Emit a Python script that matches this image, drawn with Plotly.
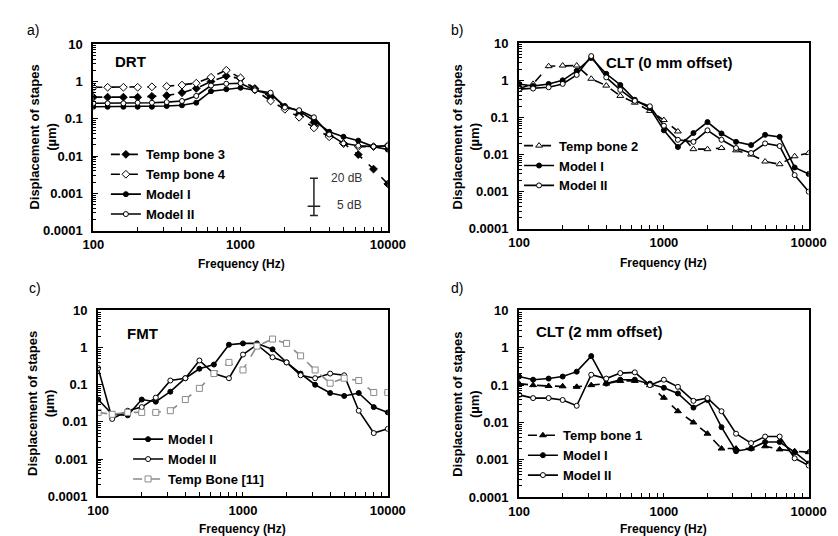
import plotly.graph_objects as go

freq = [100, 125, 160, 200, 250, 315, 400, 500, 630, 800, 1000, 1250, 1600,
        2000, 2500, 3150, 4000, 5000, 6300, 8000, 10000]

# Panel a) DRT
a_tb3 = [0.38, 0.38, 0.38, 0.38, 0.40, 0.42, 0.50, 0.65, 1.0, 1.4, 1.2, 0.65, 0.38,
         0.20, 0.13, 0.08, 0.035, 0.022, 0.011, 0.0045, 0.0018]
a_tb4 = [0.70, 0.70, 0.70, 0.70, 0.72, 0.74, 0.80, 0.90, 1.3, 2.0, 1.25, 0.60, 0.30,
         0.18, 0.11, 0.057, 0.033, 0.022, 0.018, 0.018, 0.019]
a_m1 = [0.21, 0.21, 0.21, 0.21, 0.21, 0.22, 0.23, 0.27, 0.55, 0.62, 0.68, 0.58, 0.45,
        0.22, 0.16, 0.09, 0.045, 0.033, 0.026, 0.018, 0.015]
a_m2 = [0.26, 0.26, 0.26, 0.27, 0.27, 0.28, 0.30, 0.41, 0.78, 0.87, 0.90, 0.58, 0.50,
        0.20, 0.17, 0.11, 0.038, 0.022, 0.019, 0.018, 0.019]

# Panel b) CLT (0 mm offset)
b_tb2 = [0.60, 0.80, 2.4, 2.5, 2.5, 1.1, 0.72, 0.38, 0.25, 0.15, 0.085, 0.042, 0.014,
         0.014, 0.015, 0.013, 0.010, 0.0065, 0.0055, 0.009, 0.011]
b_m1 = [0.80, 0.70, 0.80, 1.0, 1.8, 4.0, 1.5, 0.75, 0.30, 0.18, 0.045, 0.016, 0.038,
        0.075, 0.037, 0.022, 0.018, 0.034, 0.030, 0.0045, 0.003]
b_m2 = [0.58, 0.60, 0.65, 0.80, 1.4, 4.5, 1.2, 0.55, 0.28, 0.20, 0.06, 0.025, 0.022,
        0.045, 0.025, 0.015, 0.011, 0.020, 0.017, 0.0028, 0.001]

# Panel c) FMT
c_m1 = [0.04, 0.016, 0.015, 0.04, 0.035, 0.065, 0.15, 0.27, 0.35, 1.2, 1.3, 1.3, 0.9,
        0.40, 0.20, 0.10, 0.06, 0.05, 0.06, 0.025, 0.018]
c_m2 = [0.28, 0.012, 0.02, 0.025, 0.045, 0.13, 0.15, 0.45, 0.20, 0.15, 0.65, 1.2, 0.55,
        0.40, 0.18, 0.15, 0.20, 0.18, 0.02, 0.005, 0.0065]
c_tb = [0.018, 0.016, 0.018, 0.018, 0.018, 0.02, 0.04, 0.08, 0.20, 0.40, 0.25, 1.1, 1.7,
        1.3, 0.60, 0.25, 0.11, 0.15, 0.13, 0.062, 0.062]

# Panel d) CLT (2 mm offset)
d_tb1 = [0.11, 0.10, 0.095, 0.093, 0.09, 0.10, 0.11, 0.13, 0.13, 0.10, 0.046, 0.02, 0.01,
         0.005, 0.002, 0.002, 0.002, 0.0023, 0.0019, 0.0017, 0.0016]
d_m1 = [0.17, 0.14, 0.15, 0.17, 0.23, 0.60, 0.11, 0.14, 0.14, 0.11, 0.085, 0.06, 0.025,
        0.04, 0.0075, 0.0017, 0.002, 0.003, 0.003, 0.0016, 0.0008]
d_m2 = [0.055, 0.045, 0.045, 0.04, 0.028, 0.19, 0.15, 0.21, 0.22, 0.10, 0.14, 0.09, 0.038,
        0.045, 0.02, 0.005, 0.0028, 0.0042, 0.0042, 0.0011, 0.0007]

# Scale bar (panel a): 20 dB span with 5 dB mark
bar_freq = 3150
bar_top = 0.00257
bar_bottom = 0.000257
bar_mid = 0.000457

y_tickvals = [0.0001, 0.001, 0.01, 0.1, 1, 10]
y_ticktext = ["0.0001", "0.001", "0.01", "0.1", "1", "10"]
x_tickvals = [100, 1000, 10000]
x_ticktext = ["100", "1000", "10000"]

FONT = "Arial, Liberation Sans, sans-serif"
W, H = 838, 536

fig = go.Figure()


def add(name, y, ax, legend, symbol, fill, dash, color="black", size=5, show=True):
    fig.add_trace(go.Scatter(
        x=freq, y=y, name=name, mode="lines+markers",
        xaxis="x" + ax, yaxis="y" + ax, legend=legend, showlegend=show,
        line=dict(color=color, width=1.6, dash=dash),
        marker=dict(symbol=symbol, size=size, color=fill,
                    line=dict(color=color, width=1)),
    ))


# a
add("Temp bone 3", a_tb3, "", "legend", "diamond", "black", "dash", size=6)
add("Temp bone 4", a_tb4, "", "legend", "diamond", "white", "dash", size=6)
add("Model I", a_m1, "", "legend", "circle", "black", "solid")
add("Model II", a_m2, "", "legend", "circle", "white", "solid")
# b
add("Temp bone 2", b_tb2, "2", "legend2", "triangle-up", "white", "dash", size=6)
add("Model I", b_m1, "2", "legend2", "circle", "black", "solid")
add("Model II", b_m2, "2", "legend2", "circle", "white", "solid")
# c
add("Model I", c_m1, "3", "legend3", "circle", "black", "solid")
add("Model II", c_m2, "3", "legend3", "circle", "white", "solid")
add("Temp Bone [11]", c_tb, "3", "legend3", "square", "white", "dash", color="#8a8a8a", size=6)
# d
add("Temp bone 1", d_tb1, "4", "legend4", "triangle-up", "black", "dash", size=6)
add("Model I", d_m1, "4", "legend4", "circle", "black", "solid")
add("Model II", d_m2, "4", "legend4", "circle", "white", "solid")

# scale bar
fig.add_trace(go.Scatter(
    x=[bar_freq], y=[bar_mid], mode="markers", showlegend=False,
    xaxis="x", yaxis="y",
    marker=dict(symbol="line-ew", size=9, line=dict(color="#222", width=1.5)),
    error_y=dict(type="data", symmetric=False,
                 array=[bar_top - bar_mid], arrayminus=[bar_mid - bar_bottom],
                 color="#222", thickness=1.5, width=4),
))


def px_dom_x(x0, x1):
    return [x0 / W, x1 / W]


def px_dom_y(top, bottom):
    return [1 - bottom / H, 1 - top / H]


panels = {
    "": (px_dom_x(77, 382), px_dom_y(30, 222)),
    "2": (px_dom_x(518, 818), px_dom_y(29, 220)),
    "3": (px_dom_x(82, 382), px_dom_y(304, 495)),
    "4": (px_dom_x(518, 818), px_dom_y(304, 496)),
}

minor_x = [m * 10 ** e for e in (2, 3) for m in range(2, 10)]
minor_y = [m * 10.0 ** e for e in (-4, -3, -2, -1, 0) for m in range(2, 10)]

tickfont = dict(family=FONT, size=13, color="black", weight="bold")
layout = {}
for k, (xd, yd) in panels.items():
    layout["xaxis" + k] = dict(
        type="log", range=[2, 4], domain=xd, anchor="y" + k,
        tickvals=x_tickvals, ticktext=x_ticktext, tickfont=tickfont,
        ticks="inside", ticklen=4, tickwidth=1, tickcolor="black",
        minor=dict(tickvals=minor_x, ticks="inside", ticklen=4, tickcolor="black", showgrid=False),
        showline=True, linewidth=2, linecolor="black", mirror=True,
        showgrid=False, zeroline=False, ticklabelstandoff=1,
    )
    layout["yaxis" + k] = dict(
        type="log", range=[-4, 1], domain=yd, anchor="x" + k,
        tickvals=y_tickvals, ticktext=y_ticktext, tickfont=tickfont,
        ticks="inside", ticklen=5, tickwidth=1, tickcolor="black",
        minor=dict(tickvals=minor_y, ticks="inside", ticklen=3, tickcolor="black", showgrid=False),
        showline=True, linewidth=2, linecolor="black", mirror=True,
        showgrid=False, zeroline=False, ticklabelstandoff=6,
    )

legfont = dict(family=FONT, size=13, color="black", weight="bold")
leg_common = dict(font=legfont, bgcolor="rgba(0,0,0,0)", borderwidth=0,
                  xanchor="left", yanchor="top", itemwidth=30, tracegroupgap=0)
layout["legend"] = dict(x=90 / W, y=1 - 128 / H, **leg_common)
layout["legend2"] = dict(x=518 / W, y=1 - 119 / H, **leg_common)
layout["legend3"] = dict(x=113 / W, y=1 - 421 / H, **leg_common)
layout["legend4"] = dict(x=522 / W, y=1 - 417 / H, **leg_common)

annotations = []
# panel letters
for txt, x, y in [("a)", 6, 15), ("b)", 445, 15), ("c)", 8, 281), ("d)", 445, 281)]:
    annotations.append(dict(text=txt, x=x / W, y=1 - y / H, xref="paper", yref="paper",
                            xanchor="left", yanchor="middle", showarrow=False,
                            font=dict(family=FONT, size=14, color="black")))
# panel titles
for txt, ax, x, y in [("DRT", "", 0.066, 0.906), ("CLT (0 mm offset)", "2", 0.293, 0.895),
                      ("FMT", "3", 0.093, 0.874), ("CLT (2 mm offset)", "4", 0.05, 0.885)]:
    annotations.append(dict(text=txt, x=x, y=y, xref=("x" + ax) + " domain",
                            yref=("y" + ax) + " domain", xanchor="left", yanchor="middle",
                            showarrow=False,
                            font=dict(family=FONT, size=15, color="black", weight="bold")))
# y titles
for x, yc in [(25, 126), (463, 125), (23, 400), (463, 400)]:
    annotations.append(dict(text="Displacement of stapes<br>(µm)", x=x / W, y=1 - yc / H,
                            xref="paper", yref="paper", textangle=-90, showarrow=False,
                            xanchor="center", yanchor="middle",
                            font=dict(family=FONT, size=13, color="black", weight="bold")))
# x titles
for x, yc in [(230, 256), (668, 255), (232, 529), (668, 529)]:
    annotations.append(dict(text="Frequency (Hz)", x=x / W, y=1 - yc / H,
                            xref="paper", yref="paper", showarrow=False,
                            xanchor="center", yanchor="middle",
                            font=dict(family=FONT, size=12, color="black", weight="bold")))
# scale bar labels
annotations.append(dict(text="20 dB", x=0.80, y=0.281, xref="x domain", yref="y domain",
                        xanchor="left", yanchor="middle", showarrow=False,
                        font=dict(family=FONT, size=12, color="#333")))
annotations.append(dict(text="5 dB", x=0.82, y=0.14, xref="x domain", yref="y domain",
                        xanchor="left", yanchor="middle", showarrow=False,
                        font=dict(family=FONT, size=12, color="#333")))

fig.update_layout(
    width=W, height=H, margin=dict(l=0, r=0, t=0, b=0),
    paper_bgcolor="white", plot_bgcolor="white",
    font=dict(family=FONT, color="black"),
    annotations=annotations, **layout,
)

fig.write_html("out.html")
